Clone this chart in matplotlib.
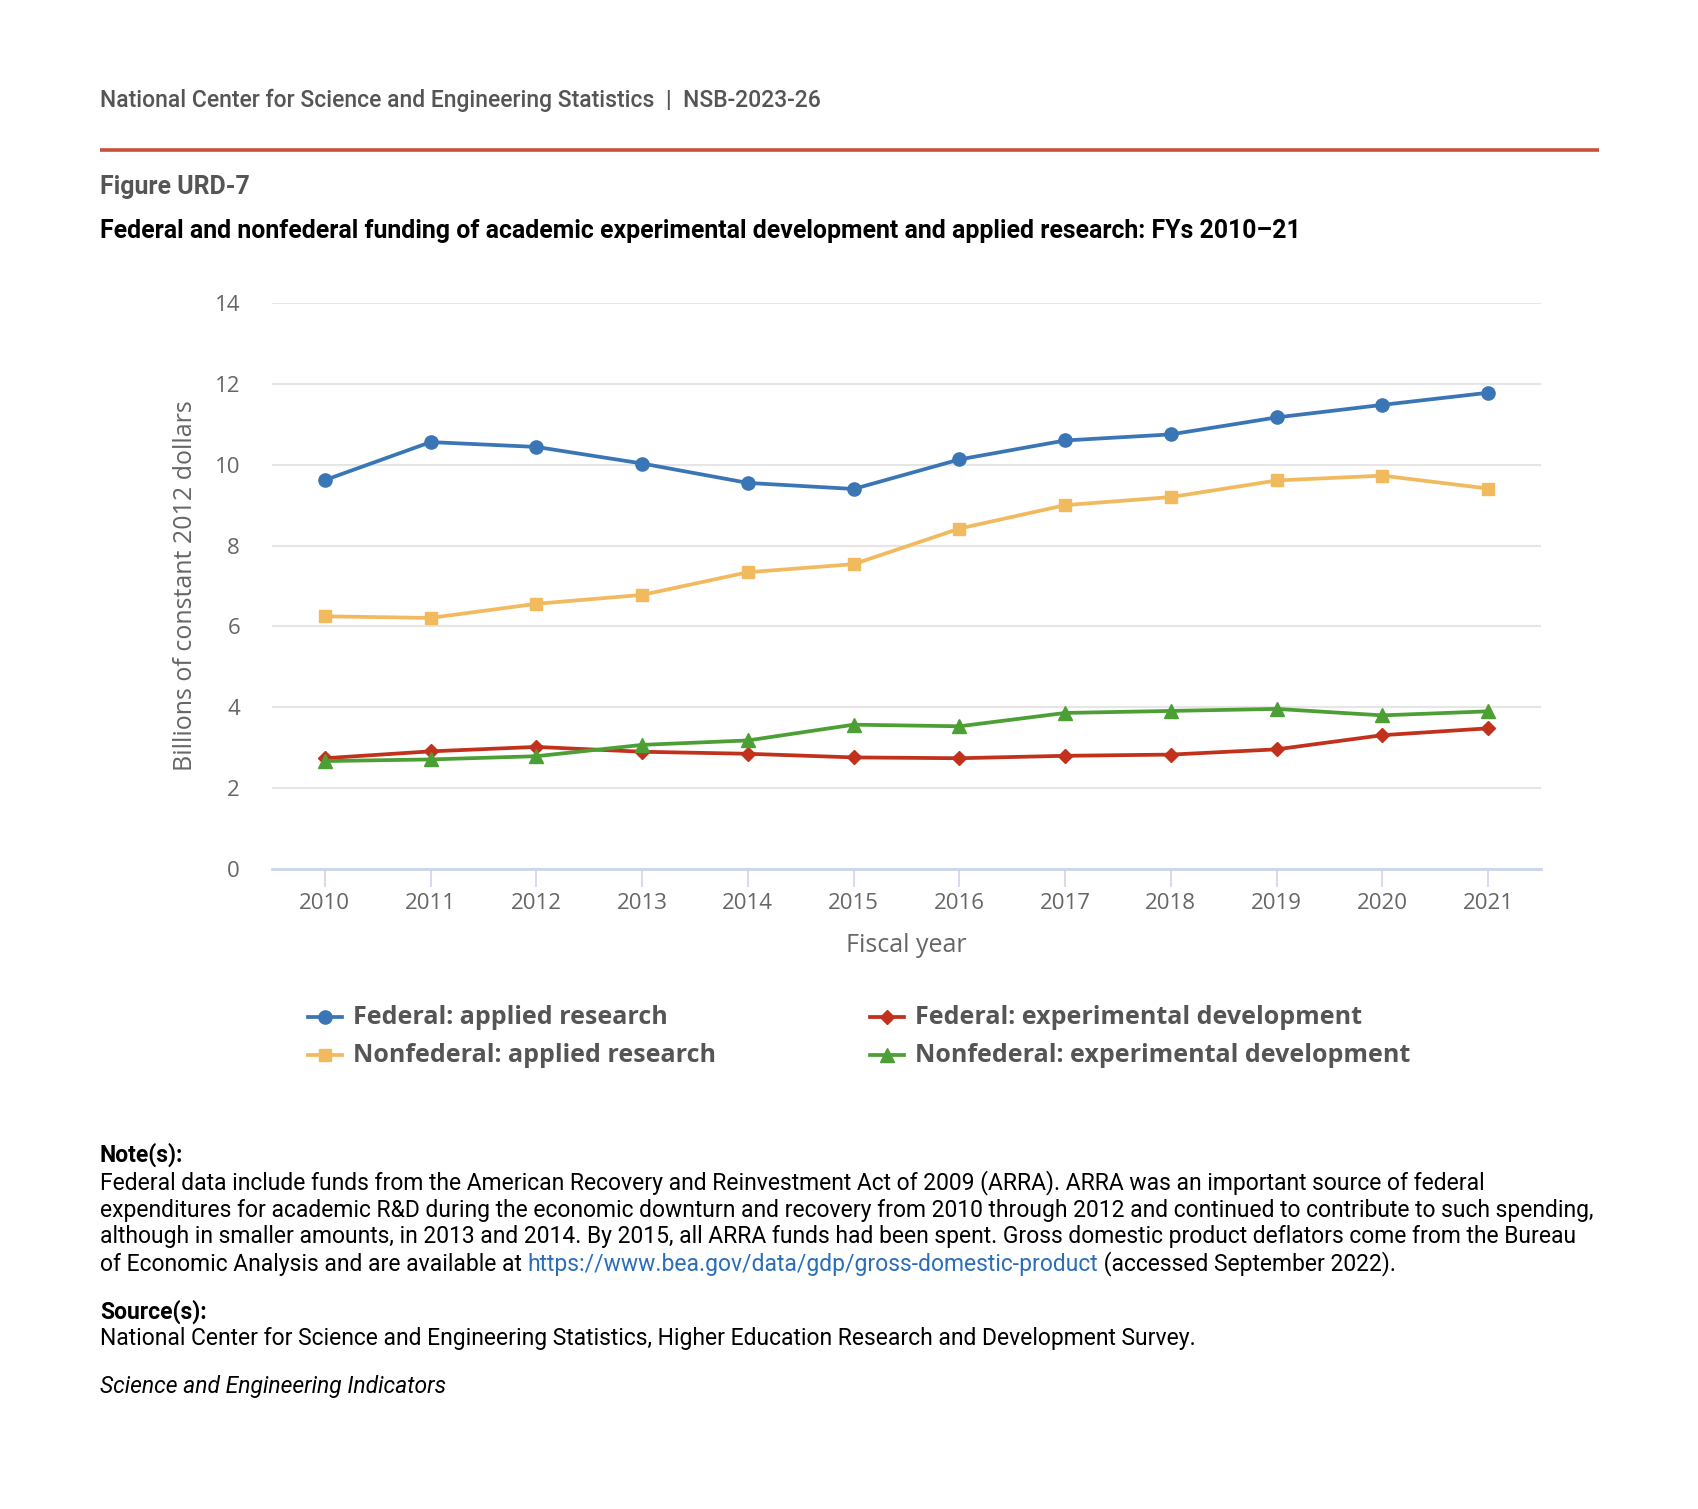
import numpy as np
import matplotlib
matplotlib.use("Agg")
import matplotlib.pyplot as plt

#========= Data ===========
years = ["2010", "2011", "2012", "2013", "2014", "2015",
         "2016", "2017", "2018", "2019", "2020", "2021"]
fed_applied = [9.62, 10.56, 10.44, 10.03, 9.55, 9.40, 10.13, 10.60, 10.75, 11.17, 11.48, 11.78]
nonfed_applied = [6.25, 6.21, 6.56, 6.78, 7.34, 7.54, 8.42, 9.00, 9.20, 9.61, 9.73, 9.41]
fed_expdev = [2.74, 2.91, 3.02, 2.90, 2.85, 2.76, 2.74, 2.80, 2.83, 2.96, 3.31, 3.48]
nonfed_expdev = [2.67, 2.71, 2.79, 3.07, 3.18, 3.57, 3.53, 3.86, 3.91, 3.96, 3.80, 3.90]

series_names = ["Federal: applied research", "Federal: experimental development",
                "Nonfederal: applied research", "Nonfederal: experimental development"]

#========= Style ===========
W, H = 1699, 1509
DPI = 100
c_blue = "#3a76b5"
c_yellow = "#f2ba5f"
c_red = "#c1311b"
c_green = "#4c9f35"
c_axis_text = "#666666"
c_head = "#555555"
chart_font = ["Open Sans", "DejaVu Sans"]
text_font = ["Roboto", "DejaVu Sans"]

fig = plt.figure(figsize=(W / DPI, H / DPI), dpi=DPI)
fig.patch.set_facecolor("white")

# page overlay, pixel coords
page = fig.add_axes([0, 0, 1, 1])
page.set_xlim(0, W)
page.set_ylim(H, 0)
page.axis("off")

#========= Chart ===========
left, right, top, bottom = 272, 1541, 303, 869
ax = fig.add_axes([left / W, 1 - bottom / H, (right - left) / W, (bottom - top) / H])
x = np.arange(len(years))
lw = 2.7
ax.plot(x, fed_applied, color=c_blue, lw=lw, marker="o", ms=9.5, zorder=3)
ax.plot(x, nonfed_applied, color=c_yellow, lw=lw, marker="s", ms=9, zorder=3)
ax.plot(x, fed_expdev, color=c_red, lw=lw, marker="D", ms=6.8, zorder=3)
ax.plot(x, nonfed_expdev, color=c_green, lw=lw, marker="^", ms=10.5, zorder=3)

ax.set_xlim(-0.5, len(years) - 0.5)
ax.set_ylim(0, 14)
ax.set_yticks(np.arange(0, 15, 2))
ax.set_xticks(x)
ax.set_xticklabels(years)
ax.grid(axis="y", color="#e6e6e6", lw=1.5)
ax.set_axisbelow(True)
for s in ["top", "right", "left"]:
    ax.spines[s].set_visible(False)
ax.spines["bottom"].set_color("#ccd6eb")
ax.spines["bottom"].set_linewidth(2)
ax.spines["bottom"].set_zorder(2)
ax.tick_params(axis="x", length=13, width=1.2, color="#ccd6eb", pad=4,
               labelsize=16, labelcolor=c_axis_text)
ax.tick_params(axis="y", length=0, pad=23, labelsize=16, labelcolor=c_axis_text)
for lab in ax.get_xticklabels() + ax.get_yticklabels():
    lab.set_family(chart_font)
ax.set_xlabel("Fiscal year", family=chart_font, fontsize=18, color=c_axis_text, labelpad=14)
ax.set_ylabel("Billions of constant 2012 dollars", family=chart_font, fontsize=18,
              color=c_axis_text, labelpad=12)

#========= Legend ===========
leg_items = [
    (series_names[0], c_blue, "o", 9.5, 308, 1017),
    (series_names[1], c_red, "D", 6.8, 870, 1017),
    (series_names[2], c_yellow, "s", 9, 308, 1055),
    (series_names[3], c_green, "^", 10.5, 870, 1055),
]
for name, col, mk, ms, lx, ly in leg_items:
    page.plot([lx, lx + 34], [ly, ly], color=col, lw=lw)
    page.plot([lx + 17], [ly], color=col, marker=mk, ms=ms)
    page.text(lx + 45, ly, name, family=chart_font, fontsize=18, weight="bold",
              color=c_head, va="center", ha="left")

#========= Header ===========
page.text(100, 100, "National Center for Science and Engineering Statistics  |  NSB-2023-26",
          family=text_font, fontsize=16.5, weight="medium", color=c_head, va="center")
page.plot([100, 1599], [150, 150], color="#c8513c", lw=2.6, solid_capstyle="butt")
page.text(100, 187, "Figure URD-7", family=text_font, fontsize=17.9, weight="bold",
          color=c_head, va="center")
page.text(100, 231, "Federal and nonfederal funding of academic experimental development "
          "and applied research: FYs 2010\u201321",
          family=text_font, fontsize=17.9, weight="bold", color="black", va="center")

#========= Notes ===========
note_lines = [
    "Federal data include funds from the American Recovery and Reinvestment Act of 2009 (ARRA). "
    "ARRA was an important source of federal",
    "expenditures for academic R&D during the economic downturn and recovery from 2010 through "
    "2012 and continued to contribute to such spending,",
    "although in smaller amounts, in 2013 and 2014. By 2015, all ARRA funds had been spent. "
    "Gross domestic product deflators come from the Bureau",
]
fs_note = 16.45
page.text(100, 1155, "Note(s):", family=text_font, fontsize=fs_note, weight="bold",
          color="black", va="center")
ny = 1183
for line in note_lines:
    page.text(100, ny, line, family=text_font, fontsize=fs_note, color="black", va="center")
    ny += 27
t1 = page.text(100, ny, "of Economic Analysis and are available at ", family=text_font,
               fontsize=fs_note, color="black", va="center")
t2 = page.annotate("https://www.bea.gov/data/gdp/gross-domestic-product", xy=(1, 0),
                   xycoords=t1, va="bottom", ha="left", family=text_font,
                   fontsize=fs_note, color="#2a6ebb")
page.annotate(" (accessed September 2022).", xy=(1, 0), xycoords=t2, va="bottom",
              ha="left", family=text_font, fontsize=fs_note, color="black")

page.text(100, 1312, "Source(s):", family=text_font, fontsize=fs_note, weight="bold",
          color="black", va="center")
page.text(100, 1339, "National Center for Science and Engineering Statistics, Higher Education "
          "Research and Development Survey.", family=text_font, fontsize=fs_note,
          color="black", va="center")
page.text(100, 1387, "Science and Engineering Indicators", family=text_font, fontsize=fs_note,
          style="italic", color="black", va="center")

fig.savefig("out.png", dpi=DPI, facecolor="white")
